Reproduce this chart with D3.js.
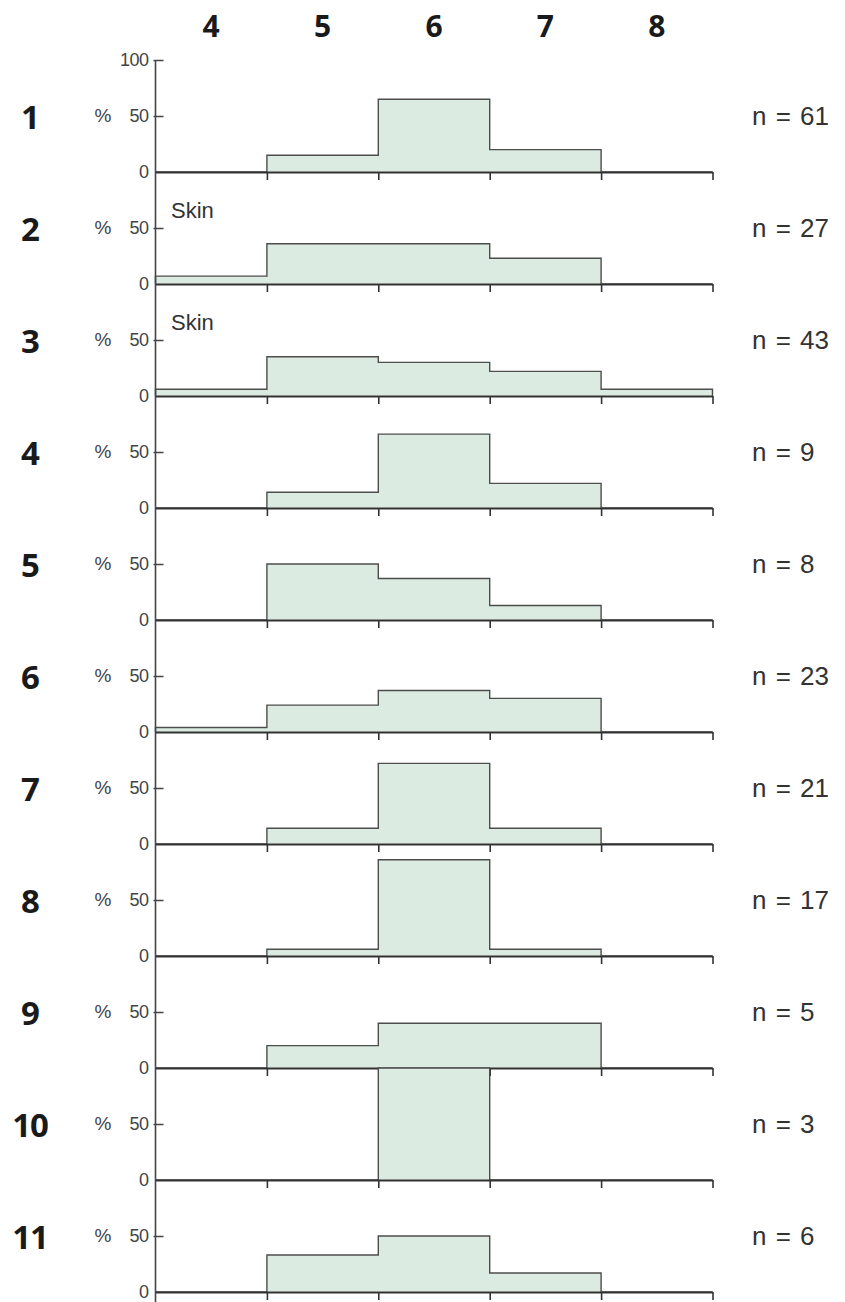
<!DOCTYPE html>
<html>
<head>
<meta charset="utf-8">
<script src="https://cdn.jsdelivr.net/npm/d3@7"></script>
<style>
  body { margin: 0; background: #fff; }
  svg { display: block; }
</style>
</head>
<body>
<div id="chart"></div>
<script>
// bins along the top, one row per panel
var bins = [4, 5, 6, 7, 8];
var rowLabels = ['1', '2', '3', '4', '5', '6', '7', '8', '9', '10', '11'];
var nCounts = [61, 27, 43, 9, 8, 23, 21, 17, 5, 3, 6];
var skinRows = ['2', '3'];

// percent per bin (4..8)
var row1 = [0, 15, 65, 20, 0];
var row2 = [7, 36, 36, 23, 0];
var row3 = [6, 35, 30, 22, 6];
var row4 = [0, 14, 66, 22, 0];
var row5 = [0, 50, 37, 13, 0];
var row6 = [4, 24, 37, 30, 0];
var row7 = [0, 14, 72, 14, 0];
var row8 = [0, 6, 86, 6, 0];
var row9 = [0, 20, 40, 40, 0];
var row10 = [0, 0, 100, 0, 0];
var row11 = [0, 33, 50, 17, 0];
var percents = [row1, row2, row3, row4, row5, row6, row7, row8, row9, row10, row11];

var svgWidth = 845;
var svgHeight = 1302;
var firstBase = 172;
var panelH = 112;

var svg = d3.select('#chart').append('svg')
    .attr('width', svgWidth).attr('height', svgHeight);

var x = d3.scaleLinear().domain([3.5, 8.5]).range([155.5, 712.5]);

var thin = '"Liberation Sans", Arial, sans-serif';
var boldFont = '"Open Sans", "Noto Sans", sans-serif';

// bin labels on top
svg.selectAll('.binLabel')
    .data(bins)
    .enter()
    .append('text')
    .attr('class', 'binLabel')
    .attr('x', d => x(d))
    .attr('y', 37)
    .attr('text-anchor', 'middle')
    .attr('font-family', boldFont)
    .attr('font-weight', 700)
    .attr('font-size', 30)
    .attr('fill', '#1a1a1a')
    .text(d => d);

var fillArea = d3.area()
    .x(d => d[0])
    .curve(d3.curveStepAfter);
var outline = d3.line()
    .x(d => d[0])
    .curve(d3.curveStepAfter);

percents.forEach(function(vals, i) {
    var base = firstBase + panelH * i;
    var y = d3.scaleLinear().domain([0, 100]).range([base, base - panelH]);
    var g = svg.append('g');

    var pts = [[x(3.5), 0]];
    vals.forEach(function(v, j) { pts.push([x(bins[j] - 0.5), v]); });
    pts.push([x(8.5), vals[vals.length - 1]]);
    pts.push([x(8.5), 0]);

    g.append('path')
        .attr('d', fillArea.y0(y(0)).y1(d => y(d[1]))(pts))
        .attr('fill', '#dcebe2')
        .attr('stroke', 'none');
    g.append('path')
        .attr('d', outline.y(d => y(d[1]))(pts))
        .attr('fill', 'none')
        .attr('stroke', '#4d4d4d')
        .attr('stroke-width', 1.4);

    // baseline with downward ticks at bin edges
    var bottomAxis = d3.axisBottom(x)
        .tickValues([4.5, 5.5, 6.5, 7.5, 8.5])
        .tickSize(8)
        .tickSizeOuter(0)
        .tickFormat('');
    var xa = g.append('g')
        .attr('transform', `translate(0, ${base})`)
        .call(bottomAxis);
    xa.select('.domain').attr('stroke', '#333').attr('stroke-width', 2.2);
    xa.selectAll('.tick line').attr('stroke', '#333').attr('stroke-width', 1.6);

    // y ticks
    var leftAxis = d3.axisLeft(y)
        .tickValues(i === 0 ? [0, 50, 100] : [0, 50])
        .tickSize(0)
        .tickPadding(7);
    var ya = g.append('g')
        .attr('transform', `translate(${x(3.5)}, 0)`)
        .call(leftAxis);
    ya.select('.domain').remove();
    ya.selectAll('.tick text')
        .attr('font-family', thin)
        .attr('font-size', 18)
        .attr('letter-spacing', -0.5)
        .attr('fill', '#444');
    ya.selectAll('.tick')
        .filter(d => d > 0)
        .append('line')
        .attr('x1', -2).attr('x2', 8)
        .attr('stroke', '#444').attr('stroke-width', 1.5);

    g.append('text')
        .attr('x', 103)
        .attr('y', y(50) + 6)
        .attr('text-anchor', 'middle')
        .attr('font-family', thin)
        .attr('font-size', 19)
        .attr('fill', '#444')
        .text('%');

    g.append('text')
        .attr('x', 30)
        .attr('y', y(50) + 13)
        .attr('text-anchor', 'middle')
        .attr('font-family', boldFont)
        .attr('font-weight', 700)
        .attr('font-size', 33)
        .attr('letter-spacing', -1)
        .attr('fill', '#1a1a1a')
        .text(rowLabels[i]);

    g.append('text')
        .attr('x', 752)
        .attr('y', y(50) + 9)
        .attr('font-family', thin)
        .attr('font-size', 26)
        .attr('word-spacing', 2)
        .attr('fill', '#333')
        .text('n = ' + nCounts[i]);

    if (skinRows.indexOf(rowLabels[i]) >= 0) {
        g.append('text')
            .attr('x', 171)
            .attr('y', y(50) - 10)
            .attr('font-family', thin)
            .attr('font-size', 22)
            .attr('fill', '#333')
            .text('Skin');
    }
});

// one continuous y axis line
svg.append('line')
    .attr('x1', x(3.5)).attr('x2', x(3.5))
    .attr('y1', 60).attr('y2', svgHeight)
    .attr('stroke', '#444')
    .attr('stroke-width', 1.6);
</script>
</body>
</html>
